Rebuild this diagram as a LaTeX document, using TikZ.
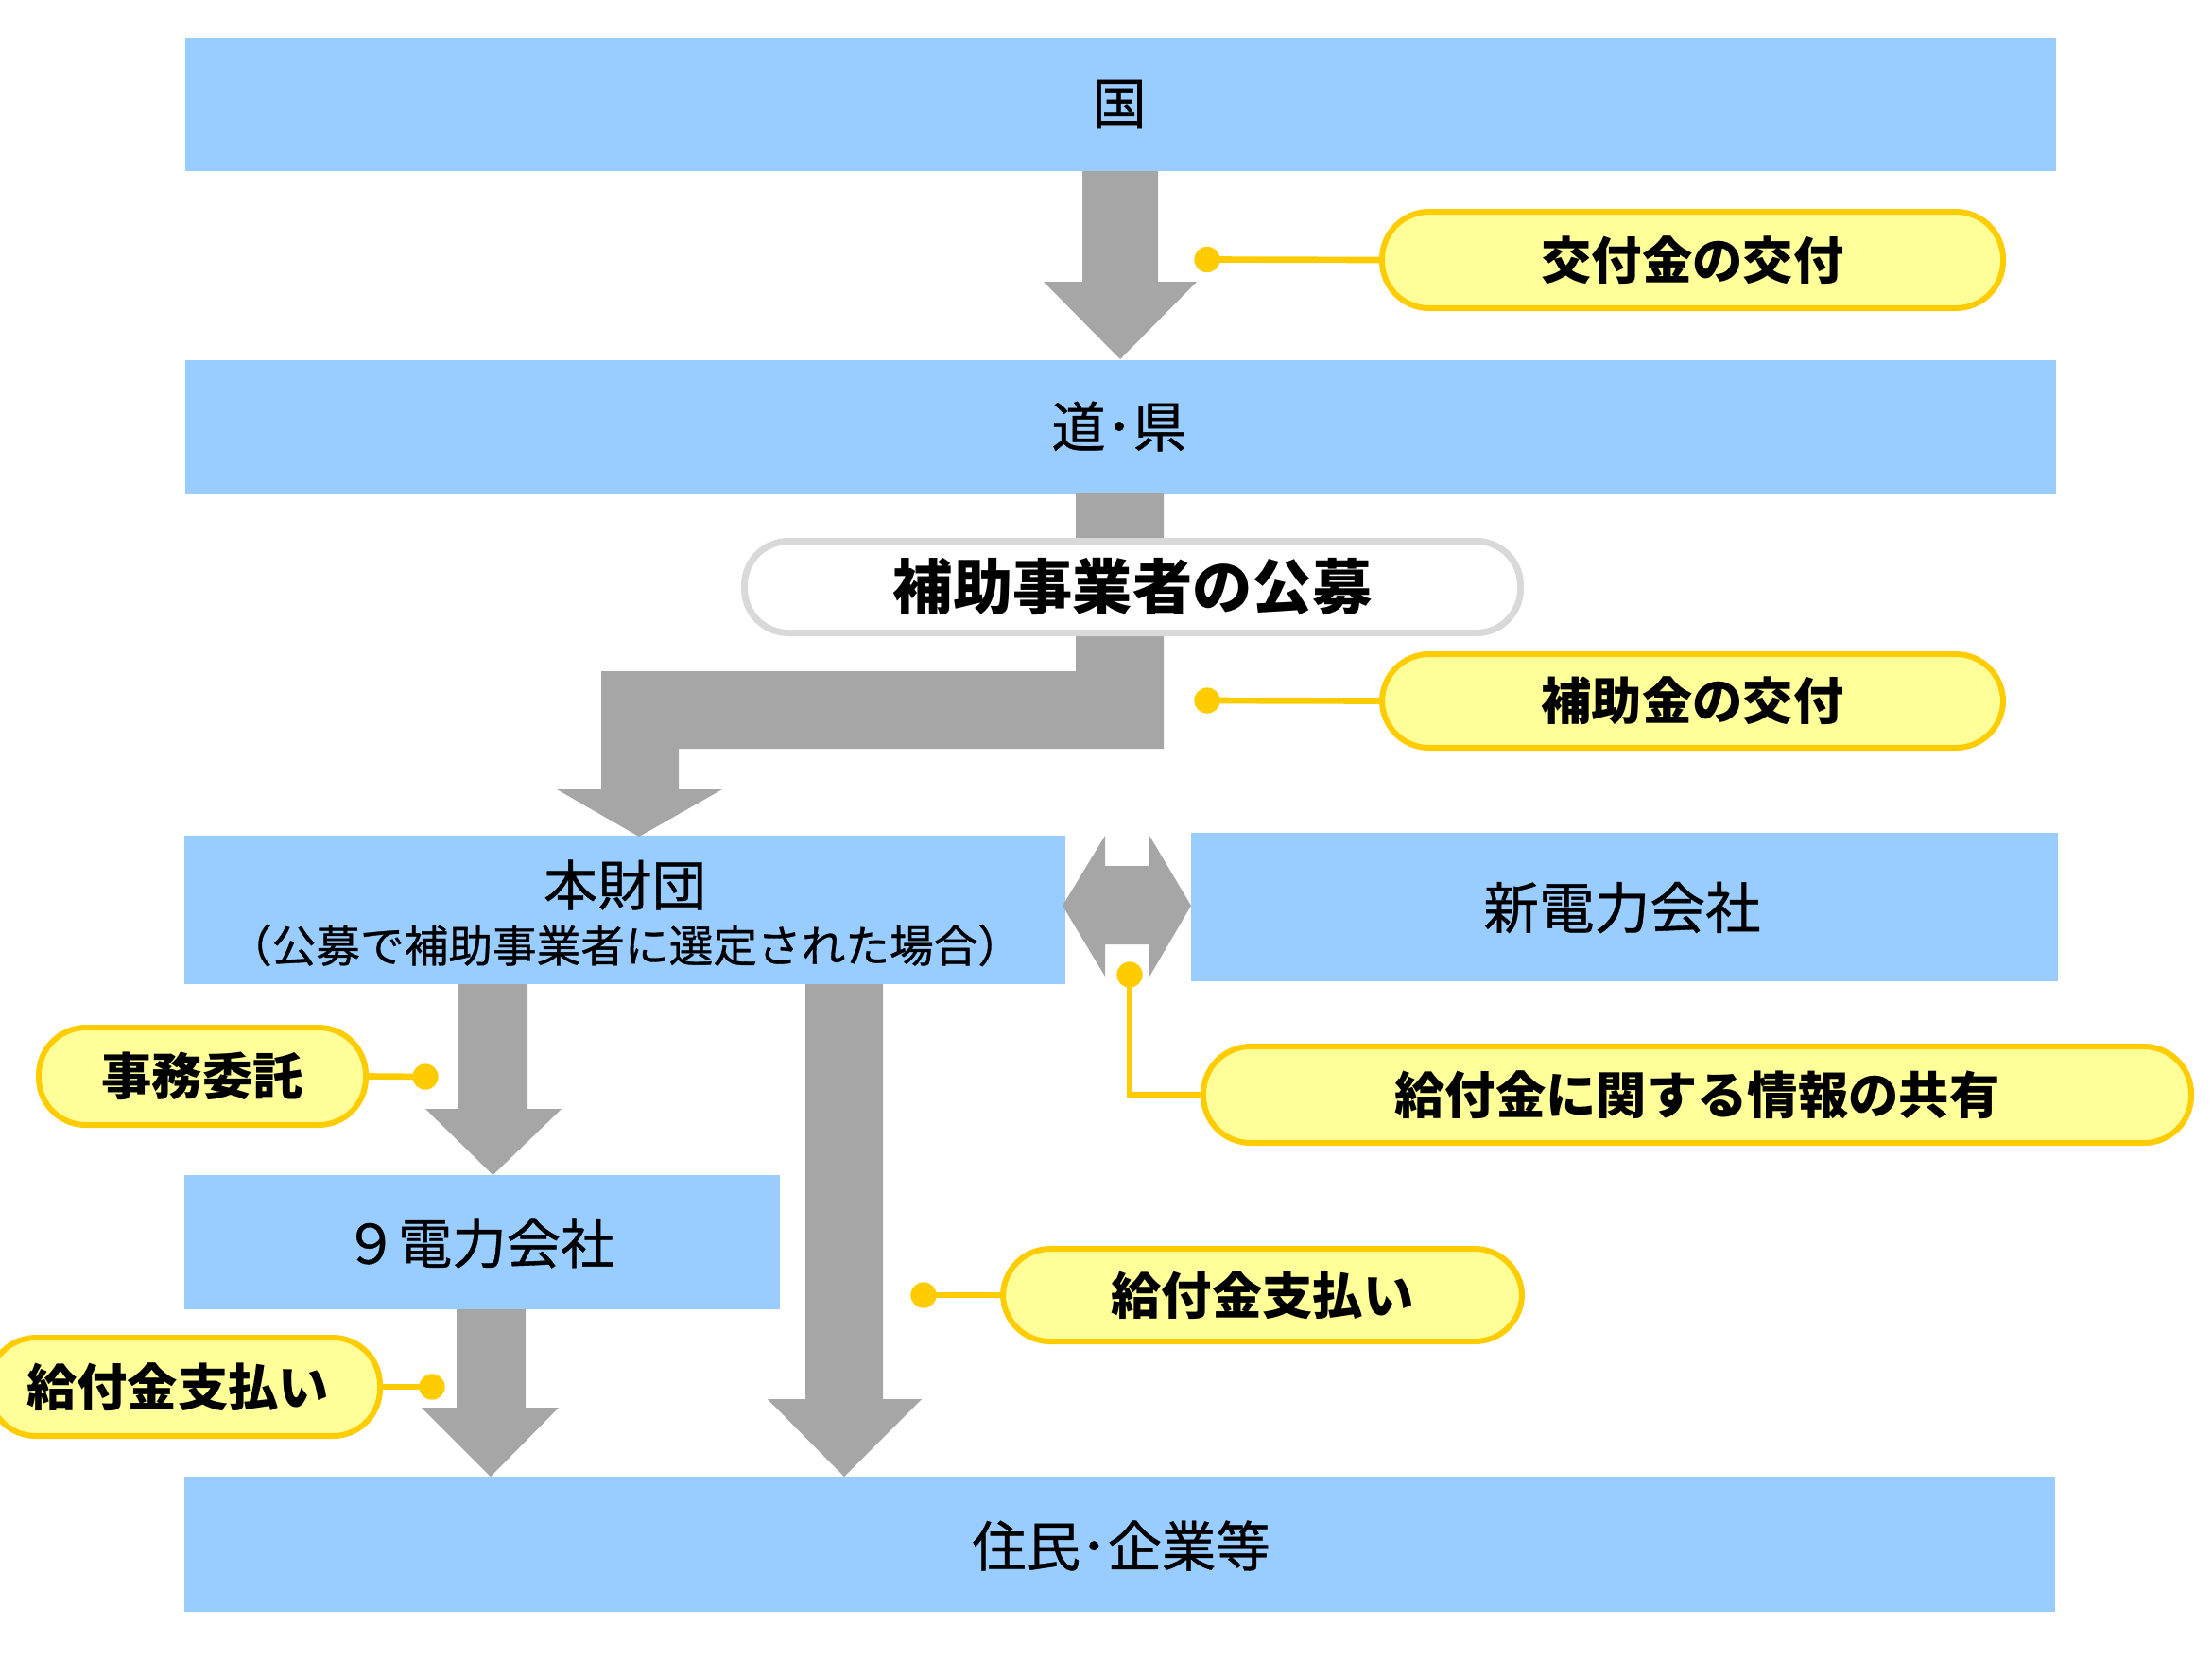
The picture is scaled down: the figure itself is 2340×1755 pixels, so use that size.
\documentclass[tikz,border=0pt]{standalone}
\usepackage{fontspec}
\setmainfont{Noto Sans CJK JP}
\newfontfamily\jp{Noto Sans CJK JP}
\newfontfamily\jpm[FakeBold=0.7]{Noto Sans CJK JP}
\definecolor{boxblue}{HTML}{99CCFF}
\definecolor{arrowgray}{HTML}{A6A6A6}
\definecolor{calfill}{HTML}{FFFF99}
\definecolor{calline}{HTML}{FFCC00}
\definecolor{pillline}{HTML}{D9D9D9}
\tikzset{
  bluebox/.style={fill=boxblue, inner sep=0pt, align=center},
  boxtext/.style={font=\jpm\fontsize{17.2}{20}\selectfont, inner sep=0pt},
  subtext/.style={font=\jpm\fontsize{14}{16}\selectfont, inner sep=0pt},
  callout/.style={fill=calfill, draw=calline, line width=1.8pt, rounded corners=15pt,
     inner sep=0pt, font=\jp\bfseries\fontsize{16}{19}\selectfont},
  pill/.style={fill=white, draw=pillline, line width=2.1pt, rounded corners=14pt,
     inner sep=0pt, font=\jp\bfseries\fontsize{19}{22}\selectfont},
  blockarrow/.style={fill=arrowgray, draw=none},
  leader/.style={draw=calline, line width=2pt},
  dotmark/.style={fill=calline},
}
\begin{document}
\begin{tikzpicture}[x=0.3pt,y=-0.3pt]
\useasboundingbox (0,0) rectangle (2340,1755);

% --- blue boxes ---
\node[bluebox, minimum width=1979*0.3pt, minimum height=141*0.3pt] (kuni) at (1185,110.5) {};
\node[boxtext] at (1184,110) {国};
\node[bluebox, minimum width=1979*0.3pt, minimum height=142*0.3pt] (doken) at (1185,451.5) {};
\node[boxtext] at (1184,451) {道･県};
\node[bluebox, minimum width=932*0.3pt, minimum height=157*0.3pt] (zaidan) at (661,962.5) {};
\node[boxtext] at (661,936) {本財団};
\node[subtext] at (661,1000) {（公募で補助事業者に選定された場合）};
\node[bluebox, minimum width=917*0.3pt, minimum height=157*0.3pt] (shin) at (1718.5,959.5) {};
\node[boxtext, font=\jpm\fontsize{17.6}{20}\selectfont] at (1716,960) {新電力会社};
\node[bluebox, minimum width=630*0.3pt, minimum height=142*0.3pt] (kyu) at (510,1314) {};
\node[boxtext] at (507,1315) {９電力会社};
\node[bluebox, minimum width=1979*0.3pt, minimum height=143*0.3pt] (jumin) at (1184.5,1633.5) {};
\node[boxtext] at (1186,1635) {住民･企業等};

% --- block arrows ---
% kuni -> doken
\fill[blockarrow] (1145,181) -- (1225,181) -- (1225,298) -- (1266,298) -- (1185,380)
   -- (1104,298) -- (1145,298) -- cycle;
% doken -> zaidan (bent)
\fill[blockarrow] (1138,522) -- (1231,522) -- (1231,792) -- (718,792) -- (718,835)
   -- (764,835) -- (676,885) -- (589,835) -- (636,835) -- (636,710) -- (1138,710) -- cycle;
% zaidan <-> shin
\fill[blockarrow] (1124,958) -- (1169,884) -- (1169,916) -- (1216,916) -- (1216,884)
   -- (1260,958) -- (1216,1033) -- (1216,999) -- (1169,999) -- (1169,1033) -- cycle;
% zaidan -> kyu
\fill[blockarrow] (485,1041) -- (558,1041) -- (558,1173) -- (594,1173) -- (521.5,1243)
   -- (450,1173) -- (485,1173) -- cycle;
% kyu -> jumin
\fill[blockarrow] (483,1385) -- (556,1385) -- (556,1489) -- (591,1489) -- (519,1562)
   -- (446,1489) -- (483,1489) -- cycle;
% zaidan -> jumin (long)
\fill[blockarrow] (852,1041) -- (934,1041) -- (934,1480) -- (975,1480) -- (893,1562)
   -- (812,1480) -- (852,1480) -- cycle;

% --- pill: koubo ---
\node[pill, minimum width=821*0.3pt, minimum height=97*0.3pt] (koubo) at (1198,621) {補助事業者の公募};

% --- callouts ---
\coordinate (d1) at (1277,274.5);
\coordinate (d2) at (1277,741);
\coordinate (d3) at (450,1139);
\coordinate (d4) at (1195,1031);
\coordinate (d5) at (977,1370);
\coordinate (d6) at (457,1467);

\node[callout, minimum width=657*0.3pt, minimum height=102*0.3pt] (c1) at (1790.5,275) {交付金の交付};
\node[callout, minimum width=657*0.3pt, minimum height=99*0.3pt] (c2) at (1790.5,741.5) {補助金の交付};
\node[callout, minimum width=346*0.3pt, minimum height=103*0.3pt] (c3) at (214,1138.5) {事務委託};
\node[callout, minimum width=1045*0.3pt, minimum height=102*0.3pt] (c4) at (1795.5,1158) {給付金に関する情報の共有};
\node[callout, minimum width=549*0.3pt, minimum height=98*0.3pt] (c5) at (1335.5,1370) {給付金支払い};
\node[callout, minimum width=414*0.3pt, minimum height=104*0.3pt, text width=414*0.3pt, align=center] (c6) at (195,1467) {\hspace*{-4pt}給付金支払い};

\draw[leader] (d1) -- (c1.west);
\draw[leader] (d2) -- (c2.west);
\draw[leader] (d3) -- (c3.east);
\draw[leader] (d4) |- (c4.west);
\draw[leader] (d5) -- (c5.west);
\draw[leader] (d6) -- (c6.east);
\foreach \d in {d1,d2,d3,d4,d5,d6} \fill[dotmark] (\d) circle (4.1pt);
\end{tikzpicture}
\end{document}
